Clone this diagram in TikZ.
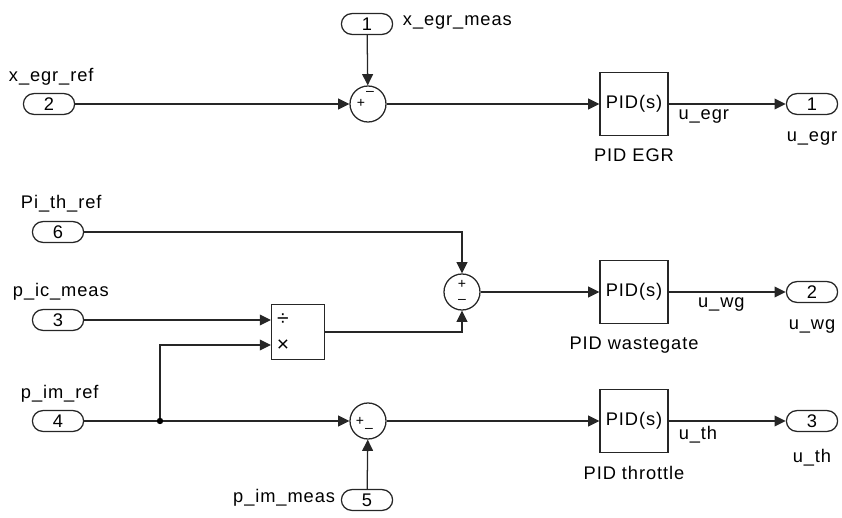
\documentclass[tikz,border=0pt]{standalone}
\usepackage{fontspec}
\setmainfont{Liberation Sans}[LetterSpace=5.0]
\usepackage{tikz}
\usetikzlibrary{arrows.meta, positioning, calc}

\begin{document}
\begin{tikzpicture}[
    x=0.025cm, y=-0.025cm,
    font=\fontsize{13}{15}\selectfont,
    port/.style={rectangle, draw=black!85, line width=0.9pt, rounded corners=2.6mm, minimum width=1.28cm, minimum height=0.52cm, inner sep=0pt},
    sumblk/.style={circle, draw=black!85, line width=0.9pt, minimum size=0.9cm, inner sep=0pt},
    pidblk/.style={rectangle, draw=black!85, line width=0.9pt, minimum width=1.7cm, minimum height=1.56cm, inner sep=0pt},
    prodblk/.style={rectangle, draw=black!85, line width=0.9pt, minimum width=1.32cm, minimum height=1.38cm, inner sep=0pt},
    sgn/.style={font=\fontsize{10}{10}\selectfont, inner sep=0pt},
    wire/.style={line width=0.9pt, draw=black!85},
    sig/.style={wire, -{Triangle[length=2.8mm, width=2.7mm]}}
]
    \useasboundingbox (0,0) rectangle (842,518);

    % inports
    \node[port] (in1) at (367,24) {1};
    \node[port] (in2) at (49,104) {2};
    \node[port] (in6) at (58,232) {6};
    \node[port] (in3) at (58,320) {3};
    \node[port] (in4) at (58,421) {4};
    \node[port] (in5) at (367,500) {5};
    \node[anchor=west] (lblin1) at (398,22) {x\_egr\_meas};
    \node[anchor=west] (lblin2) at (4,77) {x\_egr\_ref};
    \node[anchor=west] (lblin6) at (16,204) {Pi\_th\_ref};
    \node[anchor=west] (lblin3) at (8,292) {p\_ic\_meas};
    \node[anchor=west] (lblin4) at (16,394) {p\_im\_ref};
    \node[anchor=east] (lblin5) at (340,498) {p\_im\_meas};

    % sums and product
    \node[sumblk] (sum1) at (368,104) {};
    \node[sumblk] (sum2) at (462,292) {};
    \node[sumblk] (sum3) at (368,421) {};
    \node[sgn] at ($(sum1)+(-7,-1)$) {+};
    \node[sgn] at ($(sum1)+(2,-11)$) {--};
    \node[sgn] at ($(sum2)+(0,-8)$) {+};
    \node[sgn] at ($(sum2)+(0,9)$) {--};
    \node[sgn] at ($(sum3)+(-8,0)$) {+};
    \node[sgn] at ($(sum3)+(1,9)$) {--};
    \node[prodblk] (prod) at (298,332) {};
    \node[sgn, font=\fontsize{15}{15}\selectfont] at ($(prod.west)+(12,-12)$) {÷};
    \node[sgn, font=\fontsize{15}{15}\selectfont] at ($(prod.west)+(12,14)$) {×};
    \coordinate (prodB) at ($(prod.west)+(0,13)$);

    % controllers
    \node[pidblk] (pid1) at (634,104) {PID(s)};
    \node[pidblk] (pid2) at (634,292) {PID(s)};
    \node[pidblk] (pid3) at (634,421) {PID(s)};
    \node[below=0.2cm of pid1] (lblpid1) {PID EGR};
    \node[below=0.2cm of pid2] (lblpid2) {PID wastegate};
    \node[below=0.2cm of pid3] (lblpid3) {PID throttle};

    % outports
    \node[port] (out1) at (812,104) {1};
    \node[port] (out2) at (812,292) {2};
    \node[port] (out3) at (812,421) {3};
    \node[below=0.3cm of out1] (lblout1) {u\_egr};
    \node[below=0.3cm of out2] (lblout2) {u\_wg};
    \node[below=0.3cm of out3] (lblout3) {u\_th};

    \node[circle, fill=black, inner sep=0pt, minimum size=1.6mm] (dot) at (160,421) {};

    % connections
    \draw[sig] (in2) -- (sum1);
    \draw[sig] (in1) -- (sum1);
    \draw[sig] (sum1) -- (pid1);
    \draw[sig] (pid1) -- node[below, pos=0.3] {u\_egr} (out1);
    \draw[sig] (in6) -| (sum2);
    \draw[sig] (in3) -- (in3 -| prod.west);
    \draw[wire] (in4) -- (dot);
    \draw[sig] (dot) |- (prodB);
    \draw[sig] (prod) -| (sum2);
    \draw[sig] (sum2) -- (pid2);
    \draw[sig] (pid2) -- node[below, pos=0.45] {u\_wg} (out2);
    \draw[sig] (dot) -- (sum3);
    \draw[sig] (in5) -- (sum3);
    \draw[sig] (sum3) -- (pid3);
    \draw[sig] (pid3) -- node[below, pos=0.25] {u\_th} (out3);
\end{tikzpicture}
\end{document}
